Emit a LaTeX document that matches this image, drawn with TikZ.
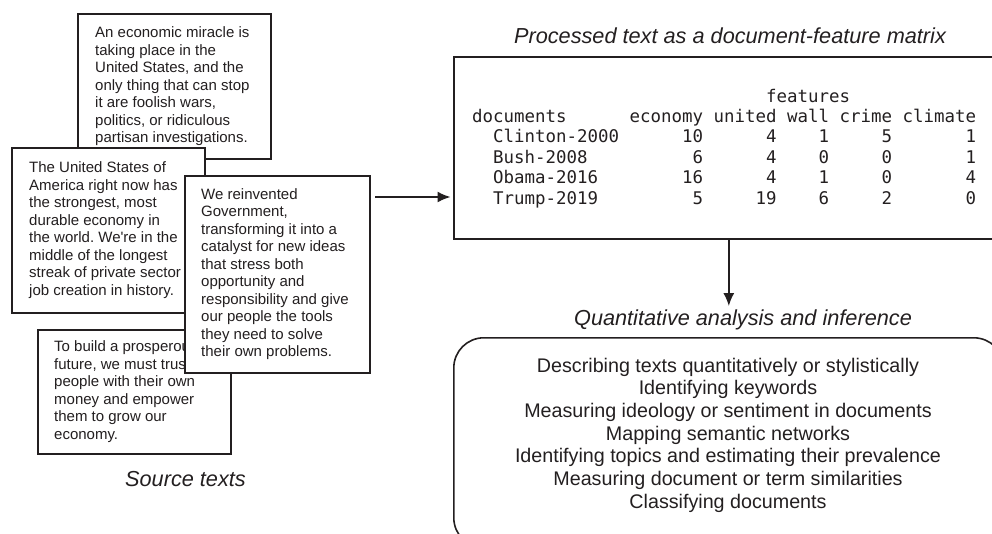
\documentclass[tikz,border=0pt]{standalone}
\usepackage{fontspec}
\setmainfont{Liberation Sans}
\newfontfamily\dfmmono{DejaVu Sans Mono}
\usetikzlibrary{arrows.meta}
\definecolor{ink}{HTML}{231F20}
\frenchspacing
\begin{document}
\begin{tikzpicture}[x=1pt,y=-1pt,
  srcbox/.style={draw=ink, fill=white, line width=1.6pt, inner sep=0pt, anchor=north west},
  srctext/.style={anchor=west, inner sep=0pt, align=left, text=ink, font=\fontsize{15}{17.5}\selectfont\frenchspacing},
  title/.style={text=ink, inner sep=3pt, anchor=base, font=\fontsize{21.7}{26}\selectfont\itshape},
  dfmrow/.style={text=ink, inner sep=0pt, anchor=base west, font=\fontsize{17.44}{20.4}\dfmmono},
  listline/.style={text=ink, inner sep=0pt, anchor=base, font=\fontsize{19.7}{22.7}\selectfont},
  bigbox/.style={draw=ink, line width=1.6pt, inner sep=0pt, anchor=north west},
  arr/.style={draw=ink, line width=1.6pt, -{Latex[length=13pt,width=11pt]}}]
\useasboundingbox (0,0) rectangle (992,533);
\clip (0,0) rectangle (992,533);

% Source texts
\node[srcbox, minimum width=193pt, minimum height=145pt] (boxA) at (77,13) {};
\node[srctext] (txtA) at ([xshift=18pt]boxA.west) {An economic miracle is\\taking place in the\\United States, and the\\only thing that can stop\\it are foolish wars,\\politics, or ridiculous\\partisan investigations.};

\node[srcbox, minimum width=193pt, minimum height=165pt] (boxB) at (11,147) {};
\node[srctext] (txtB) at ([xshift=18pt]boxB.west) {The United States of\\America right now has\\the strongest, most\\durable economy in\\the world. We\textquotesingle re in the\\middle of the longest\\streak of private sector\\job creation in history.};

\node[srcbox, minimum width=193pt, minimum height=124pt] (boxD) at (37,329) {};
\node[srctext] (txtD) at ([xshift=17pt]boxD.west) {To build a prosperous\\future, we must trust\\people with their own\\money and empower\\them to grow our\\economy.};

\node[srcbox, minimum width=185pt, minimum height=197pt] (boxC) at (184,175) {};
\node[srctext] (txtC) at ([xshift=17pt]boxC.west) {We reinvented\\Government,\\transforming it into a\\catalyst for new ideas\\that stress both\\opportunity and\\responsibility and give\\our people the tools\\they need to solve\\their own problems.};

\node[title] (stitle) at (185.5,486) {Source texts};

% Document-feature matrix
\node[title] (ptitle) at (730,43) {Processed text as a document-feature matrix};
\node[bigbox, minimum width=560pt, minimum height=182pt] (dfm) at (453,56) {};
\node[dfmrow] (r0) at (472,102) {~~~~~~~~~~~~~~~~~~~~~~~~~~~~features};
\node[dfmrow] (r1) at (472,122.4) {documents~~~~~~economy united wall crime climate};
\node[dfmrow] (r2) at (472,142.8) {~~Clinton-2000~~~~~~10~~~~~~4~~~~1~~~~~5~~~~~~~1};
\node[dfmrow] (r3) at (472,163.2) {~~Bush-2008~~~~~~~~~~6~~~~~~4~~~~0~~~~~0~~~~~~~1};
\node[dfmrow] (r4) at (472,183.6) {~~Obama-2016~~~~~~~~16~~~~~~4~~~~1~~~~~0~~~~~~~4};
\node[dfmrow] (r5) at (472,204) {~~Trump-2019~~~~~~~~~5~~~~~19~~~~6~~~~~2~~~~~~~0};

% Analysis
\node[title] (qtitle) at (743,325) {Quantitative analysis and inference};
\node[bigbox, rounded corners=30pt, minimum width=550pt, minimum height=210pt] (ana) at (453,337) {};
\node[listline] (l1) at (728,372) {Describing texts quantitatively or stylistically};
\node[listline] (l2) at (728,394.7) {Identifying keywords};
\node[listline] (l3) at (728,417.3) {Measuring ideology or sentiment in documents};
\node[listline] (l4) at (728,440) {Mapping semantic networks};
\node[listline] (l5) at (728,462.7) {Identifying topics and estimating their prevalence};
\node[listline] (l6) at (728,485.3) {Measuring document or term similarities};
\node[listline] (l7) at (728,508) {Classifying documents};

% Connectors
\coordinate (hstart) at (375,197);
\draw[arr, shorten >=2.5pt] (hstart) -- (dfm.west |- hstart);
\draw[arr] (dfm.south -| ana.north) -- (ana.north |- qtitle.north);
\end{tikzpicture}
\end{document}
